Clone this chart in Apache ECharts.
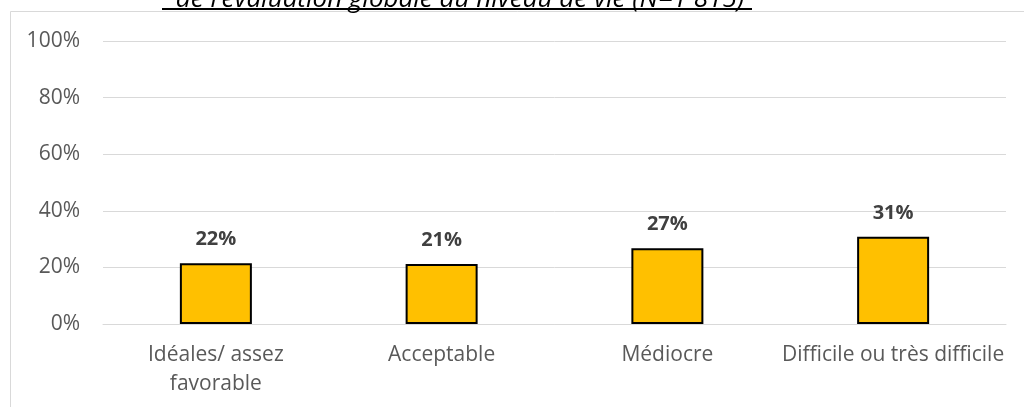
<!DOCTYPE html>
<html>
<head>
<meta charset="utf-8">
<script src="https://cdn.jsdelivr.net/npm/echarts@6/dist/echarts.min.js"></script>
<style>
html,body{margin:0;padding:0;background:#fff;}
#c{width:1024px;height:407px;}
</style>
</head>
<body>
<div id="c"></div>
<script>
const categories = ["Idéales/ assez\nfavorable", "Acceptable", "Médiocre", "Difficile ou très difficile"];
const values = [21.5, 21.2, 26.8, 30.8];
const valueLabels = ["22%", "21%", "27%", "31%"];
const titleText = "de l’évaluation globale du niveau de vie (N=1 815)";

const FONT = "Open Sans";
const chart = echarts.init(document.getElementById('c'), null, {renderer: 'canvas'});
chart.setOption({
  animation: false,
  backgroundColor: '#fff',
  graphic: [
    {type: 'rect', shape: {x: 10.5, y: 11.5, width: 1200, height: 600}, style: {fill: 'none', stroke: '#d9d9d9', lineWidth: 1}, silent: true, z: -1},
    {type: 'text', x: 460, y: 13, style: {text: titleText, font: 'italic 26px "Open Sans"', fill: '#000', align: 'center', verticalAlign: 'bottom'}, z: 10},
    {type: 'line', shape: {x1: 162, y1: 9, x2: 752, y2: 9}, style: {stroke: '#000', lineWidth: 2}, z: 10}
  ],
  grid: {left: 103, right: 18, top: 41, bottom: 83},
  xAxis: {
    type: 'category',
    data: categories,
    axisLine: {show: true, lineStyle: {color: '#d9d9d9', width: 1}},
    axisTick: {show: false},
    axisLabel: {color: '#595959', fontFamily: FONT, fontSize: 21, margin: 17, lineHeight: 29, interval: 0}
  },
  yAxis: {
    type: 'value',
    min: 0, max: 100, interval: 20,
    axisLine: {show: false},
    axisTick: {show: false},
    splitLine: {lineStyle: {color: '#d9d9d9', width: 1}},
    axisLabel: {color: '#595959', fontFamily: FONT, fontSize: 21, margin: 23, formatter: '{value}%'}
  },
  series: [{
    type: 'bar',
    data: values,
    barWidth: 72,
    itemStyle: {color: '#FFC000', borderColor: '#000', borderWidth: 2},
    label: {
      show: true, position: 'top', distance: 14,
      color: '#404040', fontFamily: FONT, fontWeight: 'bold', fontSize: 20,
      formatter: p => valueLabels[p.dataIndex]
    }
  }]
});
</script>
</body>
</html>
